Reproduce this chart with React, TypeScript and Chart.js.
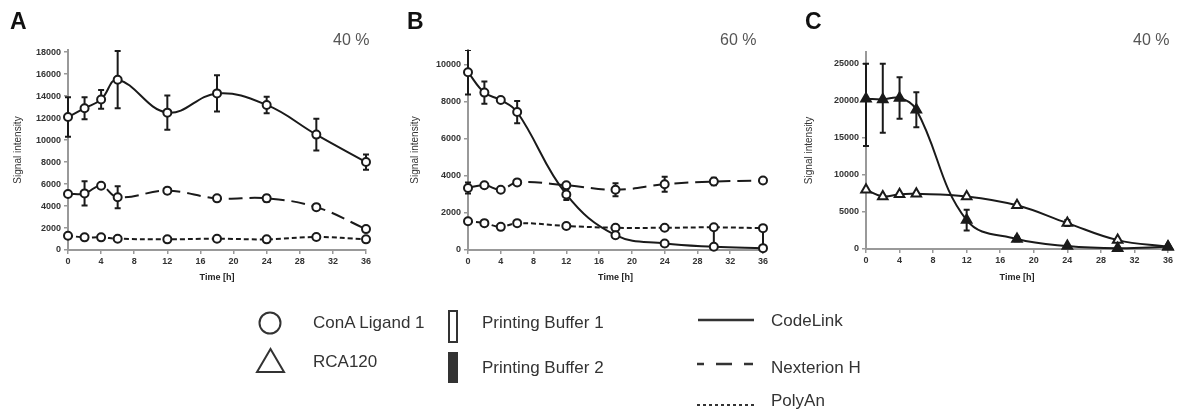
import React, { useEffect, useRef } from 'react';
import { Chart, registerables } from 'chart.js';

Chart.register(...registerables);

// ---------- data ----------
const timeH = [0, 2, 4, 6, 12, 18, 24, 30, 36];
const xTicks = [0, 4, 8, 12, 16, 20, 24, 28, 32, 36];

// Panel A (ConA Ligand 1, Printing Buffer 1, 40 %)
const aCodeLink = [12100, 12900, 13700, 15500, 12500, 14250, 13200, 10500, 8000];
const aCodeLinkErr = [1800, 1000, 850, 2600, 1550, 1650, 750, 1450, 700];
const aNexterion = [5100, 5150, 5850, 4800, 5400, 4700, 4700, 3900, 1900];
const aNexterionErr = [0, 1100, 0, 1000, 250, 0, 300, 150, 0];
const aPolyAn = [1300, 1150, 1150, 1030, 970, 1030, 970, 1180, 970];
const aPolyAnErr = [0, 0, 0, 0, 0, 0, 0, 0, 0];
const aYTicks = [0, 2000, 4000, 6000, 8000, 10000, 12000, 14000, 16000, 18000];

// Panel B (ConA Ligand 1, Printing Buffer 1, 60 %)
const bCodeLink = [9600, 8500, 8100, 7450, 3000, 800, 350, 180, 100];
const bCodeLinkErr = [1200, 600, 0, 600, 300, 0, 0, 0, 0];
const bNexterion = [3350, 3500, 3250, 3650, 3500, 3250, 3550, 3700, 3750];
const bNexterionErr = [300, 0, 0, 0, 0, 350, 400, 200, 0];
const bPolyAn = [1550, 1450, 1250, 1450, 1300, 1200, 1200, 1225, 1180];
const bPolyAnErr: (number | [number, number])[] = [0, 0, 0, 0, 0, 0, 0, [1050, 0], [1090, 0]];
const bYTicks = [0, 2000, 4000, 6000, 8000, 10000];

// Panel C (RCA120, CodeLink, 40 %)
const cBuffer2 = [20300, 20200, 20400, 18800, 3900, 1350, 400, 100, 300];
const cBuffer2Err: (number | [number, number])[] = [[6400, 4700], [4500, 4800], 2800, 2350, 1400, 300, 0, 0, 0];
const cBuffer1 = [8000, 7100, 7400, 7450, 7100, 5900, 3500, 1200, 300];
const cBuffer1Err = [0, 0, 0, 0, 0, 0, 400, 0, 0];
const cYTicks = [0, 5000, 10000, 15000, 20000, 25000];

const FONT = "'Liberation Sans', Arial, sans-serif";
const INK = '#1a1a1a';

// ---------- error bar plugin ----------
const errorBarPlugin = {
  id: 'errorBars',
  beforeDatasetsDraw(chart: any) {
    const ctx = chart.ctx;
    const ys = chart.scales.y;
    const area = chart.chartArea;
    ctx.save();
    ctx.beginPath();
    ctx.rect(area.left - 6, area.top, area.right - area.left + 12, area.bottom - area.top);
    ctx.clip();
    chart.data.datasets.forEach((ds: any, i: number) => {
      const errs = ds.errorBars;
      if (!errs) return;
      const meta = chart.getDatasetMeta(i);
      meta.data.forEach((pt: any, j: number) => {
        const e = errs[j];
        if (!e) return;
        const [dn, up] = Array.isArray(e) ? e : [e, e];
        const v = ds.data[j].y;
        const yTop = ys.getPixelForValue(v + up);
        const yBot = ys.getPixelForValue(v - dn);
        ctx.strokeStyle = INK;
        ctx.lineWidth = 2;
        ctx.beginPath();
        ctx.moveTo(pt.x, yTop);
        ctx.lineTo(pt.x, yBot);
        if (up > 0) {
          ctx.moveTo(pt.x - 3, yTop);
          ctx.lineTo(pt.x + 3, yTop);
        }
        if (dn > 0) {
          ctx.moveTo(pt.x - 3, yBot);
          ctx.lineTo(pt.x + 3, yBot);
        }
        ctx.stroke();
      });
    });
    ctx.restore();
  },
};

type Err = number | [number, number];
interface SeriesCfg {
  label: string;
  values: number[];
  errors: Err[];
  dash: number[];
  style: 'circle' | 'triangle';
  fill: string;
  radius: number;
}
interface PanelCfg {
  left: number;
  width: number;
  height: number;
  plotLeft: number;
  plotRight: number;
  plotTop: number;
  plotBottom: number;
  yMax: number;
  yTicks: number[];
  yTitlePad: number;
  series: SeriesCfg[];
}

const SOLID: number[] = [];
const LONGDASH = [14, 7];
const SHORTDASH = [5, 3];

const panels: PanelCfg[] = [
  {
    left: 0, width: 385, height: 285,
    plotLeft: 68, plotRight: 366, plotTop: 50, plotBottom: 250,
    yMax: 18200, yTicks: aYTicks, yTitlePad: 12,
    series: [
      { label: 'CodeLink', values: aCodeLink, errors: aCodeLinkErr, dash: SOLID, style: 'circle', fill: '#fff', radius: 4 },
      { label: 'Nexterion H', values: aNexterion, errors: aNexterionErr, dash: LONGDASH, style: 'circle', fill: '#fff', radius: 4 },
      { label: 'PolyAn', values: aPolyAn, errors: aPolyAnErr, dash: SHORTDASH, style: 'circle', fill: '#fff', radius: 4 },
    ],
  },
  {
    left: 390, width: 395, height: 285,
    plotLeft: 468, plotRight: 763, plotTop: 50, plotBottom: 250,
    yMax: 10800, yTicks: bYTicks, yTitlePad: 19,
    series: [
      { label: 'CodeLink', values: bCodeLink, errors: bCodeLinkErr, dash: SOLID, style: 'circle', fill: '#fff', radius: 4 },
      { label: 'Nexterion H', values: bNexterion, errors: bNexterionErr, dash: LONGDASH, style: 'circle', fill: '#fff', radius: 4 },
      { label: 'PolyAn', values: bPolyAn, errors: bPolyAnErr, dash: SHORTDASH, style: 'circle', fill: '#fff', radius: 4 },
    ],
  },
  {
    left: 790, width: 394, height: 285,
    plotLeft: 866, plotRight: 1168, plotTop: 52, plotBottom: 249,
    yMax: 26600, yTicks: cYTicks, yTitlePad: 13,
    series: [
      { label: 'RCA120 / Printing Buffer 2', values: cBuffer2, errors: cBuffer2Err, dash: SOLID, style: 'triangle', fill: INK, radius: 5.5 },
      { label: 'RCA120 / Printing Buffer 1', values: cBuffer1, errors: cBuffer1Err, dash: SOLID, style: 'triangle', fill: '#fff', radius: 5.5 },
    ],
  },
];

function Panel({ cfg }: { cfg: PanelCfg }) {
  const ref = useRef<HTMLCanvasElement>(null);
  useEffect(() => {
    if (!ref.current) return;
    const yAxisWidth = cfg.plotLeft - cfg.left;
    const xAxisHeight = cfg.height - cfg.plotBottom;
    const padRight = cfg.left + cfg.width - cfg.plotRight;
    const chart = new Chart(ref.current, {
      type: 'line',
      data: {
        datasets: cfg.series.map((s) => ({
          label: s.label,
          data: timeH.map((t, i) => ({ x: t, y: s.values[i] })),
          errorBars: s.errors,
          borderColor: INK,
          borderWidth: 2,
          borderDash: s.dash,
          tension: 0.4,
          fill: false,
          clip: false,
          pointStyle: s.style,
          pointRadius: s.radius,
          pointBorderWidth: 2,
          pointBackgroundColor: s.fill,
          pointBorderColor: INK,
        })) as any,
      },
      options: {
        animation: false,
        responsive: false,
        events: [],
        layout: { padding: { top: cfg.plotTop, right: padRight, left: 0, bottom: 0 } },
        plugins: { legend: { display: false }, tooltip: { enabled: false } },
        scales: {
          x: {
            type: 'linear',
            min: 0,
            max: 36,
            afterBuildTicks: (scale: any) => {
              scale.ticks = xTicks.map((v) => ({ value: v }));
            },
            afterFit: (scale: any) => {
              scale.height = xAxisHeight;
            },
            grid: { drawOnChartArea: false, drawTicks: true, tickLength: 4, color: '#999', lineWidth: 1.5 },
            border: { display: true, color: '#999', width: 2 },
            ticks: { color: '#333', padding: 2, font: { family: FONT, size: 9, weight: 'bold' }, maxRotation: 0 },
            title: { display: true, text: 'Time [h]', color: '#222', padding: { top: 0, bottom: 2 }, font: { family: FONT, size: 9, weight: 'bold' } },
          },
          y: {
            type: 'linear',
            min: 0,
            max: cfg.yMax,
            afterBuildTicks: (scale: any) => {
              scale.ticks = cfg.yTicks.map((v) => ({ value: v }));
            },
            afterFit: (scale: any) => {
              scale.width = yAxisWidth;
            },
            grid: { drawOnChartArea: false, drawTicks: true, tickLength: 4, color: '#999', lineWidth: 1.5 },
            border: { display: true, color: '#999', width: 2 },
            ticks: { color: '#333', padding: 3, font: { family: FONT, size: 9, weight: 'bold' }, callback: (v: any) => String(v) },
            title: { display: true, text: 'Signal intensity', color: '#333', padding: { top: cfg.yTitlePad, bottom: 0 }, font: { family: FONT, size: 10 } },
          },
        },
      } as any,
      plugins: [errorBarPlugin],
    });
    return () => chart.destroy();
  }, [cfg]);
  return (
    <canvas
      ref={ref}
      width={cfg.width}
      height={cfg.height}
      style={{ position: 'absolute', left: cfg.left, top: 0, width: cfg.width, height: cfg.height }}
    />
  );
}

const txt = (left: number, top: number, size: number, extra: React.CSSProperties = {}): React.CSSProperties => ({
  position: 'absolute',
  left,
  top,
  fontFamily: FONT,
  fontSize: size,
  lineHeight: '20px',
  whiteSpace: 'nowrap',
  color: '#333',
  ...extra,
});

export default function App() {
  return (
    <div style={{ position: 'absolute', left: 0, top: 0, width: 1184, height: 409, background: '#fff', overflow: 'hidden' }}>
      {panels.map((p, i) => (
        <Panel key={i} cfg={p} />
      ))}
      {/* panel letters */}
      <div style={txt(10, 10, 23, { fontWeight: 'bold', lineHeight: '23px', color: '#111' })}>A</div>
      <div style={txt(407, 10, 23, { fontWeight: 'bold', lineHeight: '23px', color: '#111' })}>B</div>
      <div style={txt(805, 10, 23, { fontWeight: 'bold', lineHeight: '23px', color: '#111' })}>C</div>
      {/* percentages */}
      <div style={txt(333, 30, 16, { color: '#555' })}>40 %</div>
      <div style={txt(720, 30, 16, { color: '#555' })}>60 %</div>
      <div style={txt(1133, 30, 16, { color: '#555' })}>40 %</div>
      {/* legend symbols */}
      <svg width={1184} height={409} style={{ position: 'absolute', left: 0, top: 0 }}>
        <circle cx={270} cy={323} r={10.5} fill="none" stroke="#333" strokeWidth={2} />
        <polygon points="257,372 284,372 270.5,349" fill="none" stroke="#333" strokeWidth={2} />
        <rect x={449} y={311} width={8} height={31} fill="none" stroke="#333" strokeWidth={2} />
        <rect x={448} y={352} width={10} height={31} fill="#333" />
        <line x1={698} y1={320} x2={754} y2={320} stroke="#333" strokeWidth={2.5} />
        <line x1={697} y1={364} x2={754} y2={364} stroke="#333" strokeWidth={2.5} strokeDasharray="7 12 16 12 9" />
        <line x1={697} y1={405} x2={754} y2={405} stroke="#333" strokeWidth={2} strokeDasharray="3 3" />
      </svg>
      {/* legend texts */}
      <div style={txt(313, 313, 17)}>ConA Ligand 1</div>
      <div style={txt(313, 352, 17)}>RCA120</div>
      <div style={txt(482, 313, 17)}>Printing Buffer 1</div>
      <div style={txt(482, 358, 17)}>Printing Buffer 2</div>
      <div style={txt(771, 311, 17)}>CodeLink</div>
      <div style={txt(771, 358, 17)}>Nexterion H</div>
      <div style={txt(771, 391, 17)}>PolyAn</div>
    </div>
  );
}
